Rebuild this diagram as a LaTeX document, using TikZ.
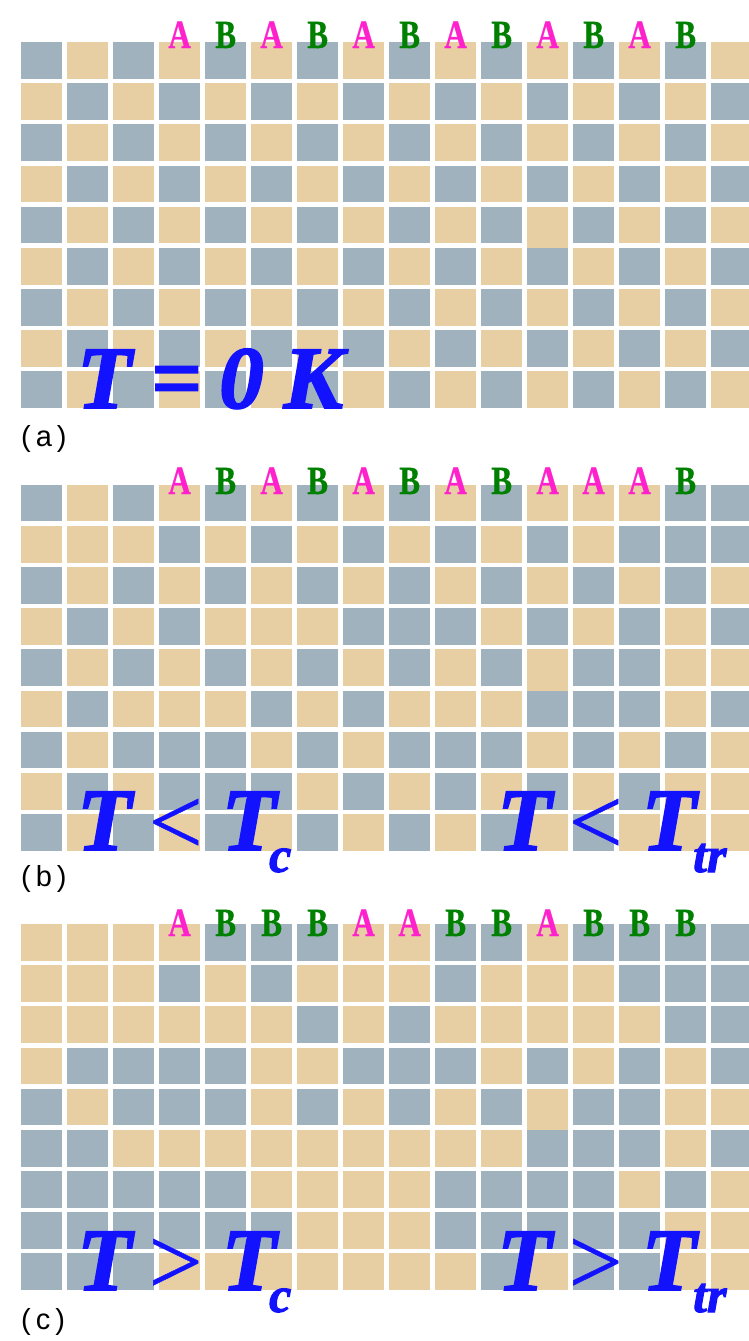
\documentclass[tikz,border=0pt]{standalone}
\usepackage{fontspec}
\setmainfont{Liberation Serif}
\newfontfamily\labsans{Liberation Sans}
\definecolor{cellg}{HTML}{9FB2BD}
\definecolor{celly}{HTML}{E8CFA3}
\definecolor{amag}{HTML}{FF22CC}
\definecolor{bgreen}{HTML}{008000}
\definecolor{tblue}{HTML}{1212FF}
\newcommand\drawpanel[2]{%
  \foreach \row [count=\r from 0] in {#2} {
    \foreach \v [count=\c from 0] in \row {
      \ifnum\v=1 \def\fc{cellg}\else\def\fc{celly}\fi
      \fill[\fc] ({21.3+46*\c},{#1+41.17*\r}) rectangle ++(40.7,36.7);
    }
  }
  \fill[celly] ({21.3+46*11},{#1+41.17*4+36.7}) rectangle ++(40.7,4.47);
}
\newcommand\drawletters[3]{% #1 baseline, #2 list, #3 prefix
  \foreach \L [count=\c from 3] in {#2} {
    \node[lab\L] (#3-\c) at ({21.3+46*\c+20.35},#1) {\L};
  }
}
\newcommand\relsym[1]{{\mdseries\upshape\addfontfeatures{FakeBold=0.5}\raisebox{-4pt}{\scalebox{1.08}{#1}}}}
\begin{document}
\begin{tikzpicture}[x=1pt,y=-1pt,
  labA/.style={font=\fontsize{40}{40}\selectfont\bfseries\addfontfeatures{FakeBold=0.8}, text=amag, anchor=base, inner sep=0pt, xscale=0.78},
  labB/.style={font=\fontsize{40}{40}\selectfont\bfseries\addfontfeatures{FakeBold=0.8}, text=bgreen, anchor=base, inner sep=0pt, xscale=0.78},
  bigT/.style={font=\fontsize{89}{89}\selectfont\bfseries\itshape\addfontfeatures{FakeBold=2}, text=tblue, anchor=base west, inner sep=0pt},
  panlab/.style={font=\labsans\fontsize{29}{29}\selectfont, anchor=base west, inner sep=0pt}]
\useasboundingbox (0,0) rectangle (749,1341);
\clip (0,0) rectangle (749,1341);
% panel (a)
\drawpanel{42}{%
 {1,0,1,0,1,0,1,0,1,0,1,0,1,0,1,0},
 {0,1,0,1,0,1,0,1,0,1,0,1,0,1,0,1},
 {1,0,1,0,1,0,1,0,1,0,1,0,1,0,1,0},
 {0,1,0,1,0,1,0,1,0,1,0,1,0,1,0,1},
 {1,0,1,0,1,0,1,0,1,0,1,0,1,0,1,0},
 {0,1,0,1,0,1,0,1,0,1,0,1,0,1,0,1},
 {1,0,1,0,1,0,1,0,1,0,1,0,1,0,1,0},
 {0,1,0,1,0,1,0,1,0,1,0,1,0,1,0,1},
 {1,0,1,0,1,0,1,0,1,0,1,0,1,0,1,0}}
\drawletters{48}{A,B,A,B,A,B,A,B,A,B,A,B}{la}
% panel (b)
\drawpanel{484.7}{%
 {1,0,1,0,1,0,1,0,1,0,1,0,0,0,1,1},
 {0,0,0,1,0,1,0,1,0,1,0,1,0,1,1,1},
 {1,0,1,0,1,0,1,0,1,0,1,0,1,0,1,0},
 {0,1,0,1,0,0,0,1,1,1,0,1,0,1,0,1},
 {1,0,1,0,1,0,1,0,1,0,1,0,1,1,0,0},
 {0,1,0,0,0,1,0,1,0,0,0,1,1,1,0,1},
 {1,0,1,1,1,0,1,0,1,1,1,0,1,0,1,0},
 {0,1,0,1,1,1,0,1,0,1,0,1,0,1,0,0},
 {1,0,1,0,1,0,1,0,1,0,1,0,1,0,0,0}}
\drawletters{494}{A,B,A,B,A,B,A,B,A,A,A,B}{lb}
% panel (c)
\drawpanel{924}{%
 {0,0,0,0,1,1,1,0,0,1,1,0,1,1,1,1},
 {0,0,0,1,0,1,0,0,0,1,0,0,0,1,1,1},
 {0,0,0,0,0,0,1,0,1,0,0,0,0,0,1,1},
 {0,1,1,1,1,0,0,1,1,1,0,1,0,1,0,1},
 {1,0,1,1,1,0,1,0,1,0,1,0,1,1,0,0},
 {1,1,0,0,0,0,0,0,0,0,0,1,1,1,0,1},
 {1,1,1,1,1,0,0,0,0,1,1,1,1,0,1,0},
 {1,1,1,1,1,1,0,0,0,1,1,1,1,1,0,0},
 {1,1,1,0,0,0,0,0,0,0,1,0,1,1,0,0}}
\drawletters{936}{A,B,B,B,A,A,B,B,A,B,B,B}{lc}
% big labels
\node[bigT] (ta) at (77,408) {T\kern20pt{\upshape=}\kern17pt 0\kern20pt K};
\node[bigT] (tb1) at (77,850) {T\kern17pt\relsym{<}\kern19pt T\kern-7pt\raisebox{-22pt}{\fontsize{50}{50}\selectfont c}};
\node[bigT] (tb2) at (497,850) {T\kern17pt\relsym{<}\kern19pt T\kern-3pt\raisebox{-22pt}{\fontsize{50}{50}\selectfont tr}};
\node[bigT] (tc1) at (77,1290) {T\kern17pt\relsym{>}\kern19pt T\kern-7pt\raisebox{-22pt}{\fontsize{50}{50}\selectfont c}};
\node[bigT] (tc2) at (497,1290) {T\kern17pt\relsym{>}\kern19pt T\kern-3pt\raisebox{-22pt}{\fontsize{50}{50}\selectfont tr}};
% panel labels
\node[panlab] (pa) at (21,446) {(\kern5pt a\kern5pt)};
\node[panlab] (pb) at (21,886) {(\kern5pt b\kern5pt)};
\node[panlab] (pc) at (21,1329) {(\kern5pt c\kern5pt)};
\end{tikzpicture}
\end{document}
